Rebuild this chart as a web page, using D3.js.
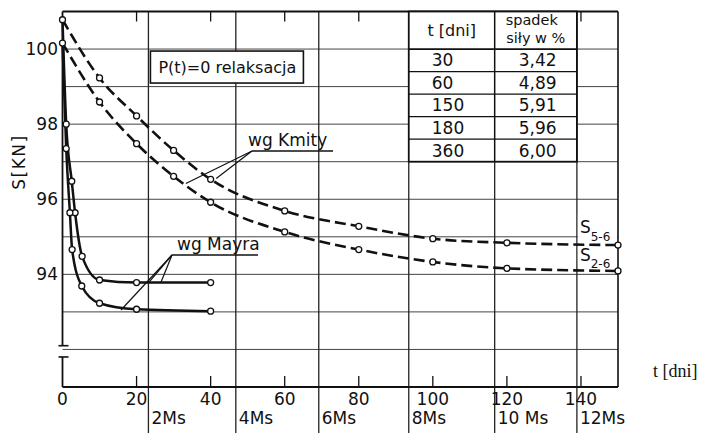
<!DOCTYPE html>
<html>
<head>
<meta charset="utf-8">
<script src="https://cdn.jsdelivr.net/npm/d3@7"></script>
<style>
    body { margin: 0; background: #fff; }
    svg text { font-family: "DejaVu Sans", sans-serif; fill: #111; }
</style>
</head>
<body>
<div id="chart"></div>
<script>

// axis values
const dayTicks = [0, 20, 40, 60, 80, 100, 120, 140];
const forceLabels = [100, 98, 96, 94];
const forceGrid = [92, 93, 94, 95, 96, 97, 98, 99, 100];
const monthLabels = ["2Ms", "4Ms", "6Ms", "8Ms", "10 Ms", "12Ms"];
const monthDays = [23.2, 46.8, 69.2, 93.5, 116.7, 138.9];

// wg Kmity (dashed) - [t, S]
const kmity56 = [[0, 100.78], [10, 99.23], [20, 98.22], [30, 97.30], [40, 96.53],
    [60, 95.69], [80, 95.28], [100, 94.95], [120, 94.84], [150, 94.78]];
const kmity26 = [[0, 100.16], [10, 98.59], [20, 97.48], [30, 96.61], [40, 95.92],
    [60, 95.13], [80, 94.66], [100, 94.33], [120, 94.16], [150, 94.09]];

// wg Mayra (solid)
const mayraUpper = [[0, 100.78], [1, 98.0], [2.5, 96.48], [3.4, 95.64], [5.3, 94.48],
    [10, 93.85], [20, 93.78], [40, 93.78]];
const mayraLower = [[0, 100.16], [1, 97.35], [2, 95.64], [2.6, 94.66], [5.2, 93.69],
    [10, 93.23], [20, 93.07], [40, 93.02]];

// table
const tableDays = ["30", "60", "150", "180", "360"];
const tableDrop = ["3,42", "4,89", "5,91", "5,96", "6,00"];

// leader targets
const kmityPointers = [[33.3, 96.42], [41.5, 96.55]];
const mayraPointers = [[23.2, 93.77], [26.5, 93.77], [15.8, 93.05]];

class RelaxationChart {

    constructor(_parentElement) {
        this.parentElement = _parentElement;
        this.initVis();
    }

    initVis() {
        let vis = this;

        vis.svg = d3.select("#" + vis.parentElement).append("svg")
            .attr("width", 721)
            .attr("height", 433);

        vis.x = d3.scaleLinear().domain([0, 150]).range([62.5, 618]);
        vis.y = d3.scaleLinear().domain([91, 101]).range([387, 11.5]);

        vis.drawFrame();
        vis.drawTable();
        vis.drawCurves();
        vis.drawNotes();
    }

    drawFrame() {
        let vis = this;
        let x = vis.x, y = vis.y;

        // horizontal grid
        vis.svg.selectAll(".hgrid")
            .data(forceGrid)
            .enter().append("line")
            .attr("class", "hgrid")
            .attr("x1", x(0)).attr("x2", x(150))
            .attr("y1", d => y(d)).attr("y2", d => y(d))
            .attr("stroke", "#444")
            .attr("stroke-width", 1);

        // month lines, running below the axis
        vis.svg.selectAll(".vgrid")
            .data(monthDays)
            .enter().append("line")
            .attr("class", "vgrid")
            .attr("x1", d => x(d)).attr("x2", d => x(d))
            .attr("y1", y(101)).attr("y2", 433)
            .attr("stroke", "#222")
            .attr("stroke-width", 1.3);

        vis.svg.selectAll(".mlabel")
            .data(monthLabels)
            .enter().append("text")
            .attr("class", "mlabel")
            .attr("x", (d, i) => x(monthDays[i]) + 3)
            .attr("y", 424)
            .attr("font-size", 17)
            .text(d => d);

        // frame
        vis.svg.append("line")
            .attr("x1", x(0)).attr("x2", x(150))
            .attr("y1", y(101)).attr("y2", y(101))
            .attr("stroke", "#111").attr("stroke-width", 1.8);
        vis.svg.append("line")
            .attr("x1", x(0)).attr("x2", x(150))
            .attr("y1", y(91)).attr("y2", y(91))
            .attr("stroke", "#111").attr("stroke-width", 1.8);
        vis.svg.append("line")
            .attr("x1", x(150)).attr("x2", x(150))
            .attr("y1", y(101)).attr("y2", y(91))
            .attr("stroke", "#111").attr("stroke-width", 1.6);

        // y axis with break
        vis.svg.append("line")
            .attr("x1", x(0)).attr("x2", x(0))
            .attr("y1", y(101)).attr("y2", y(92.1))
            .attr("stroke", "#111").attr("stroke-width", 1.8);
        vis.svg.append("line")
            .attr("x1", x(0)).attr("x2", x(0))
            .attr("y1", y(91.8)).attr("y2", y(91))
            .attr("stroke", "#111").attr("stroke-width", 1.8);
        [92.1, 91.8].forEach(v => {
            vis.svg.append("line")
                .attr("x1", x(0) - 4).attr("x2", x(0) + 6)
                .attr("y1", y(v)).attr("y2", y(v))
                .attr("stroke", "#111").attr("stroke-width", 1.6);
        });

        // ticks top and bottom
        let inner = dayTicks.filter(d => d > 0);
        vis.svg.selectAll(".ttick")
            .data(inner)
            .enter().append("line")
            .attr("x1", d => x(d)).attr("x2", d => x(d))
            .attr("y1", y(101)).attr("y2", y(101) + 10)
            .attr("stroke", "#111").attr("stroke-width", 1.3);
        vis.svg.selectAll(".btick")
            .data(inner)
            .enter().append("line")
            .attr("x1", d => x(d)).attr("x2", d => x(d))
            .attr("y1", y(91)).attr("y2", y(91) - 11)
            .attr("stroke", "#111").attr("stroke-width", 1.3);

        vis.svg.selectAll(".xlabel")
            .data(dayTicks)
            .enter().append("text")
            .attr("x", d => x(d))
            .attr("y", 405)
            .attr("text-anchor", "middle")
            .attr("font-size", 17)
            .text(d => d);

        vis.svg.selectAll(".ylabel")
            .data(forceLabels)
            .enter().append("text")
            .attr("x", 58)
            .attr("y", d => y(d))
            .attr("dy", "0.36em")
            .attr("text-anchor", "end")
            .attr("font-size", 17)
            .text(d => d);

        vis.svg.append("text")
            .attr("transform", "translate(25,162) rotate(-90)")
            .attr("text-anchor", "middle")
            .attr("font-size", 17)
            .attr("letter-spacing", 1.5)
            .text("S[KN]");

        vis.svg.append("text")
            .attr("x", 653)
            .attr("y", 377)
            .style("font-family", "'Liberation Serif', serif")
            .attr("font-size", 18)
            .text("t  [dni]");
    }

    drawTable() {
        let vis = this;
        let x = vis.x, y = vis.y;

        let x0 = x(monthDays[3]), x1 = x(monthDays[4]), x2 = x(monthDays[5]);
        let rowY = d3.scaleLinear().domain([0, 5]).range([y(100), y(97)]);

        vis.svg.append("rect")
            .attr("x", x0).attr("y", y(101))
            .attr("width", x2 - x0).attr("height", y(97) - y(101))
            .attr("fill", "#fff")
            .attr("stroke", "#111")
            .attr("stroke-width", 1.8);

        vis.svg.append("line")
            .attr("x1", x1).attr("x2", x1)
            .attr("y1", y(101)).attr("y2", y(97))
            .attr("stroke", "#111").attr("stroke-width", 1.5);

        vis.svg.selectAll(".trow")
            .data(d3.range(0, 5))
            .enter().append("line")
            .attr("x1", x0).attr("x2", x2)
            .attr("y1", d => rowY(d)).attr("y2", d => rowY(d))
            .attr("stroke", "#111").attr("stroke-width", d => d === 0 ? 1.8 : 1.4);

        vis.svg.append("text")
            .attr("x", (x0 + x1) / 2)
            .attr("y", (y(101) + y(100)) / 2)
            .attr("dy", "0.36em")
            .attr("text-anchor", "middle")
            .attr("font-size", 16)
            .text("t [dni]");

        vis.svg.append("text")
            .attr("x", (x1 + x2) / 2 - 4)
            .attr("y", y(101) + 13.5)
            .attr("text-anchor", "middle")
            .attr("font-size", 14.5)
            .text("spadek");
        vis.svg.append("text")
            .attr("x", (x1 + x2) / 2)
            .attr("y", y(101) + 31)
            .attr("text-anchor", "middle")
            .attr("font-size", 14.5)
            .text("siły w %");

        vis.svg.selectAll(".tdays")
            .data(tableDays)
            .enter().append("text")
            .attr("x", x0 + 23)
            .attr("y", (d, i) => (rowY(i) + rowY(i + 1)) / 2)
            .attr("dy", "0.36em")
            .attr("font-size", 17)
            .text(d => d);

        vis.svg.selectAll(".tdrop")
            .data(tableDrop)
            .enter().append("text")
            .attr("x", x1 + 24)
            .attr("y", (d, i) => (rowY(i) + rowY(i + 1)) / 2)
            .attr("dy", "0.36em")
            .attr("font-size", 17)
            .text(d => d);
    }

    drawCurves() {
        let vis = this;
        let x = vis.x, y = vis.y;

        // white patch behind the series labels
        vis.svg.append("rect")
            .attr("x", x(monthDays[5]) + 1)
            .attr("y", 214)
            .attr("width", x(150) - x(monthDays[5]) - 2)
            .attr("height", 52)
            .attr("fill", "#fff");

        const line = d3.line()
            .x(d => x(d[0]))
            .y(d => y(d[1]))
            .curve(d3.curveMonotoneX);

        [kmity56, kmity26].forEach(s => {
            vis.svg.append("path")
                .attr("d", line(s))
                .attr("fill", "none")
                .attr("stroke", "#111")
                .attr("stroke-width", 2.6)
                .attr("stroke-dasharray", "11,5");
        });

        [mayraUpper, mayraLower].forEach(s => {
            vis.svg.append("path")
                .attr("d", line(s))
                .attr("fill", "none")
                .attr("stroke", "#111")
                .attr("stroke-width", 2.5);
        });

        let pts = [].concat(kmity56, kmity26, mayraUpper.slice(1), mayraLower.slice(1));
        vis.svg.selectAll(".pt")
            .data(pts)
            .enter().append("circle")
            .attr("class", "pt")
            .attr("cx", d => x(d[0]))
            .attr("cy", d => y(d[1]))
            .attr("r", 3)
            .attr("fill", "#fff")
            .attr("stroke", "#111")
            .attr("stroke-width", 1.3);

        // series names
        let sx = x(monthDays[5]) + 3;
        let s1 = vis.svg.append("text").attr("x", sx).attr("y", 233).attr("font-size", 17);
        s1.append("tspan").text("S");
        s1.append("tspan").attr("dy", 8).attr("font-size", 12).text("5-6");
        let s2 = vis.svg.append("text").attr("x", sx).attr("y", 261).attr("font-size", 17);
        s2.append("tspan").text("S");
        s2.append("tspan").attr("dy", 7).attr("font-size", 12).text("2-6");
    }

    drawNotes() {
        let vis = this;
        let x = vis.x, y = vis.y;

        // relaxation box
        let bx = x(monthDays[0]) + 2, by = y(100) + 2;
        vis.svg.append("rect")
            .attr("x", bx).attr("y", by)
            .attr("width", 153).attr("height", 32)
            .attr("fill", "#fff")
            .attr("stroke", "#111")
            .attr("stroke-width", 1.6);
        vis.svg.append("text")
            .attr("x", bx + 8).attr("y", by + 22)
            .attr("font-size", 16)
            .text("P(t)=0 relaksacja");

        // wg Kmity
        let kx = 252, ky = 151;
        vis.svg.append("text")
            .attr("x", 248).attr("y", 146)
            .attr("font-size", 17)
            .text("wg Kmity");
        vis.svg.append("line")
            .attr("x1", kx).attr("x2", 333)
            .attr("y1", ky).attr("y2", ky)
            .attr("stroke", "#111").attr("stroke-width", 1.5);
        vis.svg.selectAll(".kptr")
            .data(kmityPointers)
            .enter().append("line")
            .attr("x1", kx).attr("y1", ky)
            .attr("x2", d => x(d[0])).attr("y2", d => y(d[1]))
            .attr("stroke", "#111").attr("stroke-width", 1.2);

        // wg Mayra
        let mx = 172, my = 255;
        vis.svg.append("text")
            .attr("x", 177).attr("y", 250)
            .attr("font-size", 17)
            .text("wg Mayra");
        vis.svg.append("line")
            .attr("x1", mx).attr("x2", 258)
            .attr("y1", my).attr("y2", my)
            .attr("stroke", "#111").attr("stroke-width", 1.5);
        vis.svg.selectAll(".mptr")
            .data(mayraPointers)
            .enter().append("line")
            .attr("x1", mx).attr("y1", my)
            .attr("x2", d => x(d[0])).attr("y2", d => y(d[1]))
            .attr("stroke", "#111").attr("stroke-width", 1.2);
    }
}

new RelaxationChart("chart");

</script>
</body>
</html>
